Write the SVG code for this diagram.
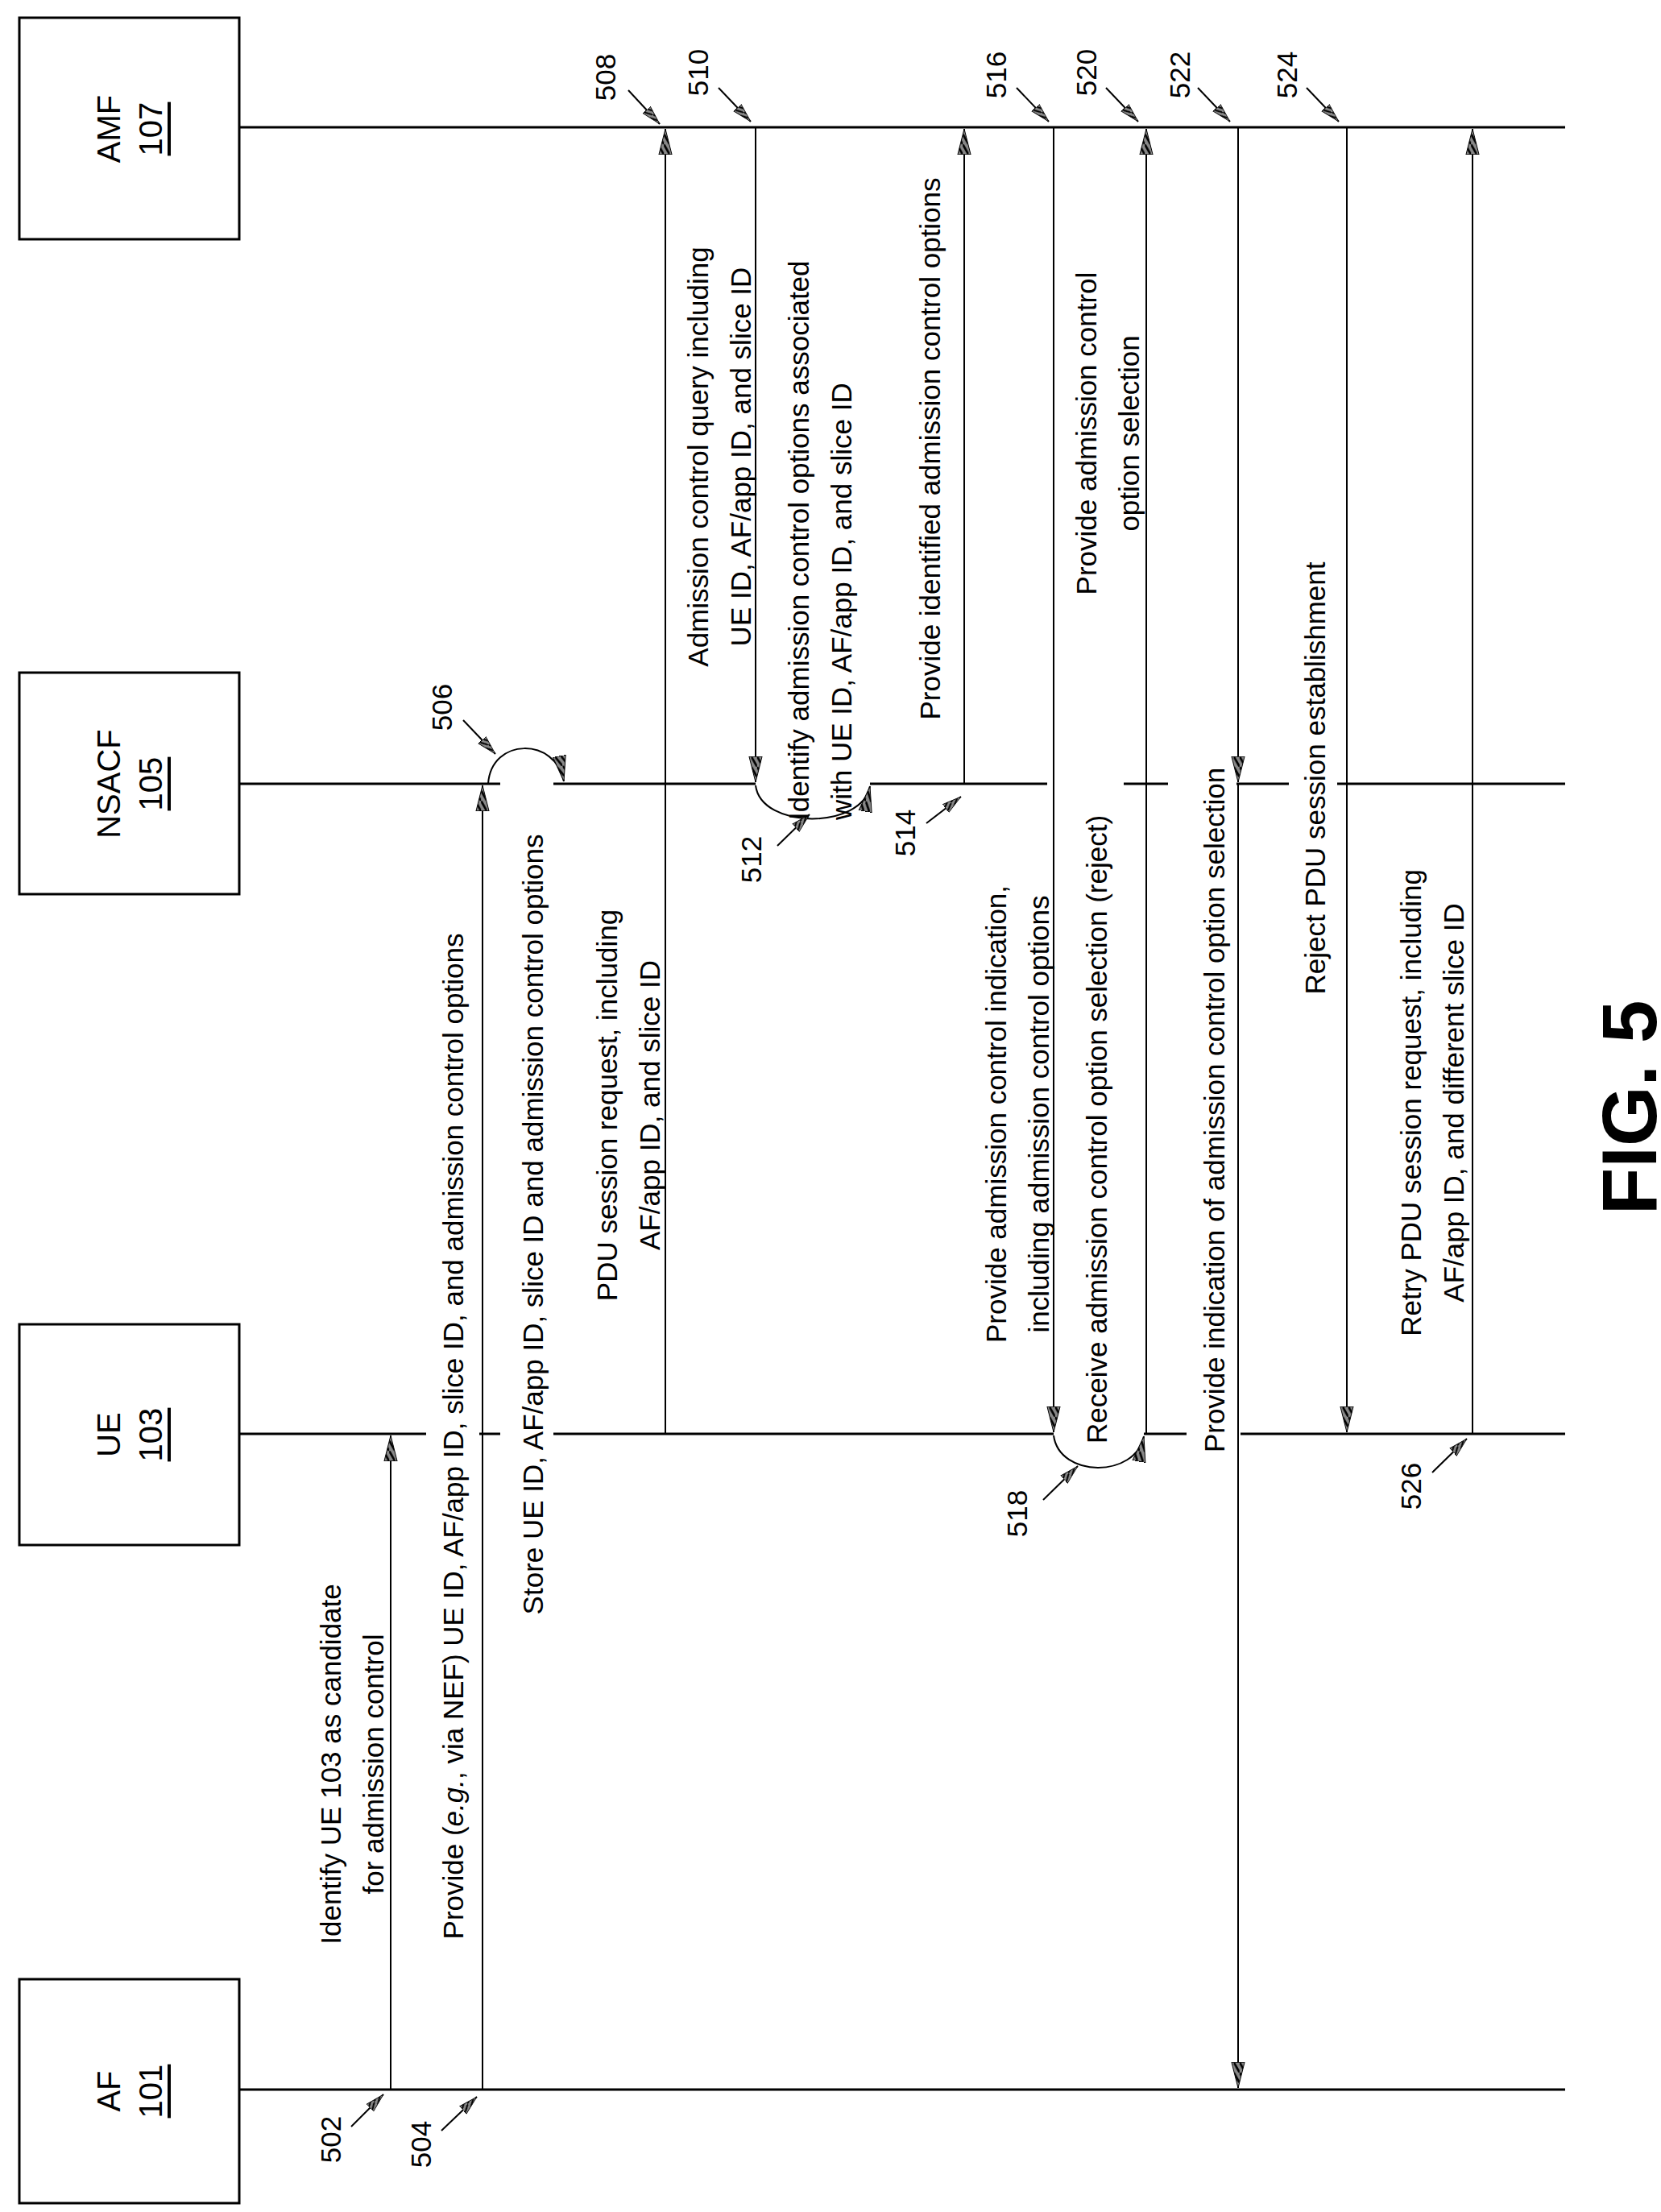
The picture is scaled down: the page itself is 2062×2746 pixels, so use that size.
<svg xmlns="http://www.w3.org/2000/svg" width="2062" height="2746" viewBox="0 0 2062 2746">
<style>
text{font-family:"Liberation Sans",Arial,sans-serif;font-size:35px;fill:#000;dominant-baseline:central;text-anchor:middle}
.box{fill:#fff;stroke:#000;stroke-width:3}
.ll{stroke:#000;stroke-width:3;fill:none}
.msg{stroke:#000;stroke-width:2;fill:none;marker-end:url(#ah)}
.ptr{stroke:#000;stroke-width:2;fill:none;marker-end:url(#ph)}
.lbl{font-size:40px}
.st{text-anchor:start}
</style>
<defs>
<pattern id="hatch" width="4" height="4" patternUnits="userSpaceOnUse"><rect width="4" height="4" fill="#888"/><path d="M0 4L4 0" stroke="#000" stroke-width="1.2"/></pattern>
<marker id="ah" viewBox="0 0 10 10" refX="10" refY="5" markerWidth="32" markerHeight="18" markerUnits="userSpaceOnUse" orient="auto" preserveAspectRatio="none"><path d="M0 0.5L10 5L0 9.5z" fill="url(#hatch)" stroke="#000" stroke-width="0.5"/></marker>
<marker id="ph" viewBox="0 0 10 10" refX="10" refY="5" markerWidth="24" markerHeight="14" markerUnits="userSpaceOnUse" orient="auto" preserveAspectRatio="none"><path d="M0 0.5L10 5L0 9.5z" fill="url(#hatch)" stroke="#000" stroke-width="0.5"/></marker>
</defs>
<rect width="2062" height="2746" fill="#fff"/>

<g id="AMF"><rect class="box" x="24" y="22" width="273" height="275"/><text class="lbl" transform="translate(135,160) rotate(-90)">AMF</text><text class="lbl" transform="translate(187,160) rotate(-90)" text-decoration="underline">107</text></g>
<g id="NSACF"><rect class="box" x="24" y="835" width="273" height="275"/><text class="lbl" transform="translate(135,973) rotate(-90)">NSACF</text><text class="lbl" transform="translate(187,973) rotate(-90)" text-decoration="underline">105</text></g>
<g id="UE"><rect class="box" x="24" y="1644" width="273" height="274"/><text class="lbl" transform="translate(135,1781) rotate(-90)">UE</text><text class="lbl" transform="translate(187,1781) rotate(-90)" text-decoration="underline">103</text></g>
<g id="AF"><rect class="box" x="24" y="2457" width="273" height="278"/><text class="lbl" transform="translate(135,2596) rotate(-90)">AF</text><text class="lbl" transform="translate(187,2596) rotate(-90)" text-decoration="underline">101</text></g>

<g id="lifelines">
<path class="ll" d="M297 158H1943"/>
<path class="ll" d="M297 973H621M687 973H938M1080 973H1300M1395 973H1450M1535 973H1600M1660 973H1943"/>
<path class="ll" d="M297 1780H529M595 1780H621M687 1780H1308M1420 1780H1473M1540 1780H1943"/>
<path class="ll" d="M297 2594H1943"/>
</g>

<g id="connectors">
<path class="msg" d="M485 2594V1782"/>
<path class="msg" d="M599 2594V975"/>
<path class="msg" d="M606 973C610 915 690 915 700 970"/>
<path class="msg" d="M826 1780V160"/>
<path class="msg" d="M938 158V971"/>
<path class="msg" d="M938 975C945 1030 1070 1030 1080 976"/>
<path class="msg" d="M1197 973V160"/>
<path class="msg" d="M1308 158V1778"/>
<path class="msg" d="M1308 1782C1315 1835 1410 1835 1420 1783"/>
<path class="msg" d="M1423 1780V160"/>
<path stroke="#000" stroke-width="2" d="M1537 158V960"/>
<path class="msg" d="M1537 900V971"/>
<path class="msg" d="M1537 973V2592"/>
<path class="msg" d="M1672 158V1778"/>
<path class="msg" d="M1828 1780V160"/>
<path class="ptr" d="M780 112L819 154"/>
<path class="ptr" d="M892 109L932 151"/>
<path class="ptr" d="M1262 109L1302 151"/>
<path class="ptr" d="M1373 109L1413 151"/>
<path class="ptr" d="M1487 109L1527 151"/>
<path class="ptr" d="M1622 109L1662 151"/>
<path class="ptr" d="M575 894L615 936"/>
<path class="ptr" d="M436 2640L476 2600"/>
<path class="ptr" d="M548 2645L592 2603"/>
<path class="ptr" d="M965 1050L1005 1011"/>
<path class="ptr" d="M1150 1022L1193 989"/>
<path class="ptr" d="M1295 1862L1338 1820"/>
<path class="ptr" d="M1778 1828L1821 1786"/>
</g>

<g id="labels">
<text transform="translate(751,96) rotate(-90)">508</text>
<text transform="translate(866,90) rotate(-90)">510</text>
<text transform="translate(1236,93) rotate(-90)">516</text>
<text transform="translate(1348,90) rotate(-90)">520</text>
<text transform="translate(1464,93) rotate(-90)">522</text>
<text transform="translate(1597,93) rotate(-90)">524</text>
<text transform="translate(548,878) rotate(-90)">506</text>
<text transform="translate(410,2656) rotate(-90)">502</text>
<text transform="translate(522,2662) rotate(-90)">504</text>
<text transform="translate(932,1067) rotate(-90)">512</text>
<text transform="translate(1123,1034) rotate(-90)">514</text>
<text transform="translate(1262,1879) rotate(-90)">518</text>
<text transform="translate(1751,1845) rotate(-90)">526</text>

<text transform="translate(410,2190) rotate(-90)">Identify UE 103 as candidate</text>
<text transform="translate(463,2190) rotate(-90)">for admission control</text>
<text transform="translate(562,1783) rotate(-90)">Provide (<tspan font-style="italic">e.g.</tspan>, via NEF) UE ID, AF/app ID, slice ID, and admission control options</text>
<text transform="translate(661,1520) rotate(-90)">Store UE ID, AF/app ID, slice ID and admission control options</text>
<text transform="translate(753,1372) rotate(-90)">PDU session request, including</text>
<text transform="translate(806,1372) rotate(-90)">AF/app ID, and slice ID</text>
<text transform="translate(866,567) rotate(-90)">Admission control query including</text>
<text transform="translate(919,567) rotate(-90)">UE ID, AF/app ID, and slice ID</text>
<text class="st" transform="translate(991,1018) rotate(-90)">Identify admission control options associated</text>
<text class="st" transform="translate(1044,1018) rotate(-90)">with UE ID, AF/app ID, and slice ID</text>
<text transform="translate(1154,557) rotate(-90)">Provide identified admission control options</text>
<text transform="translate(1236,1383) rotate(-90)">Provide admission control indication,</text>
<text transform="translate(1289,1383) rotate(-90)">including admission control options</text>
<text class="st" transform="translate(1361,1792) rotate(-90)">Receive admission control option selection (reject)</text>
<text transform="translate(1348,538) rotate(-90)">Provide admission control</text>
<text transform="translate(1401,538) rotate(-90)">option selection</text>
<text transform="translate(1507,1378) rotate(-90)">Provide indication of admission control option selection</text>
<text transform="translate(1632,966) rotate(-90)">Reject PDU session establishment</text>
<text transform="translate(1751,1369) rotate(-90)">Retry PDU session request, including</text>
<text transform="translate(1804,1369) rotate(-90)">AF/app ID, and different slice ID</text>
<text transform="translate(2022,1375) rotate(-90)" style="font-size:96px;font-weight:bold">FIG. 5</text>
</g>
</svg>
